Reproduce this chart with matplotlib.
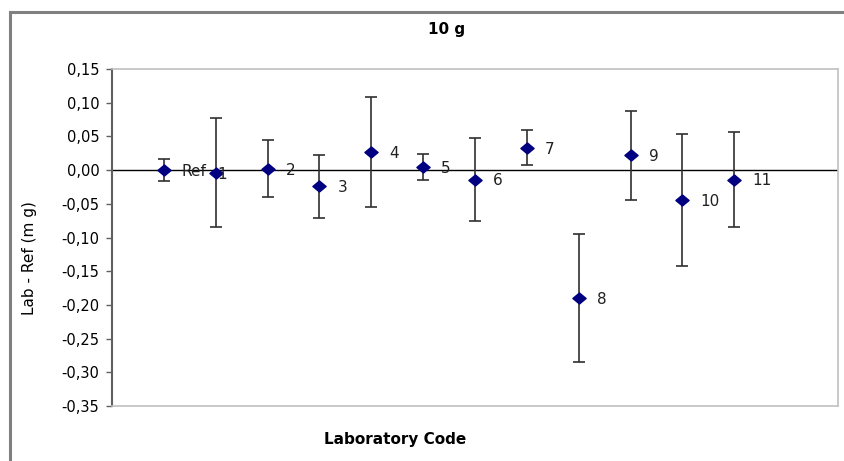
import matplotlib
matplotlib.use("Agg")
import matplotlib.pyplot as plt
from matplotlib.ticker import MultipleLocator, FuncFormatter
from matplotlib.lines import Line2D
from matplotlib.path import Path

plt.rcParams['font.family'] = ['DejaVu Sans']

# data
lab_codes = ['Ref', '1', '2', '3', '4', '5', '6', '7', '8', '9', '10', '11']
lab_pos = [0, 1, 2, 3, 4, 5, 6, 7, 8, 9, 10, 11]
diff_mg = [0.000, -0.004, 0.002, -0.024, 0.027, 0.005, -0.014, 0.033, -0.190, 0.022, -0.044, -0.014]
unc_mg = [0.016, 0.081, 0.042, 0.047, 0.082, 0.019, 0.061, 0.026, 0.095, 0.066, 0.098, 0.070]

# slightly wide diamond, like the excel marker
diamond = Path([(-1.2, 0), (0, 1), (1.2, 0), (0, -1), (-1.2, 0)],
               [Path.MOVETO, Path.LINETO, Path.LINETO, Path.LINETO, Path.CLOSEPOLY])

fig = plt.figure(figsize=(8.44, 4.61), dpi=100)
ax = fig.add_axes([0.1327, 0.1193, 0.8602, 0.7310])

ax.axhline(0, color='black', linewidth=1.0, zorder=1)
ax.errorbar(lab_pos, diff_mg, yerr=unc_mg, fmt='none', ecolor='#303030',
            elinewidth=1.2, capsize=4.6, capthick=1.2, zorder=2)
ax.plot(lab_pos, diff_mg, linestyle='none', marker=diamond, markersize=9.5,
        color='#000080', zorder=3)

for x, y, t in zip(lab_pos, diff_mg, lab_codes):
    dx = 13
    if t == '1':
        dx = 1   # excel put this one on top of the marker
    ax.annotate(t, (x, y), xytext=(dx, -1), textcoords='offset points',
                ha='left', va='center', fontsize=11, color='#202020')

ax.set_xlim(-1, 13)
ax.set_ylim(-0.35, 0.15)
ax.yaxis.set_major_locator(MultipleLocator(0.05))
ax.yaxis.set_major_formatter(FuncFormatter(lambda v, p: ('%.2f' % v).replace('.', ',').replace('-0,00', '0,00')))
ax.set_xticks([])
ax.tick_params(axis='y', direction='out', length=4, width=1, color='#606060',
               labelsize=10.5, pad=5)

for s in ['top', 'right', 'bottom']:
    ax.spines[s].set_color('#c0c0c0')
    ax.spines[s].set_linewidth(1.2)
ax.spines['left'].set_color('#606060')
ax.spines['left'].set_linewidth(1.5)

fig.text(0.529, 0.935, '10 g', ha='center', va='center', fontsize=11, fontweight='bold')
fig.text(0.468, 0.046, 'Laboratory Code', ha='center', va='center', fontsize=11, fontweight='bold')
fig.text(0.035, 0.44, 'Lab - Ref (m g)', ha='center', va='center', rotation=90, fontsize=11)

# outer chart frame (only top and left visible)
fig.add_artist(Line2D([0.012, 0.012], [0.0, 0.973], transform=fig.transFigure, color='#808080', linewidth=2.2))
fig.add_artist(Line2D([0.012, 1.0], [0.973, 0.973], transform=fig.transFigure, color='#808080', linewidth=2.2))

fig.savefig('out.png', dpi=100)
